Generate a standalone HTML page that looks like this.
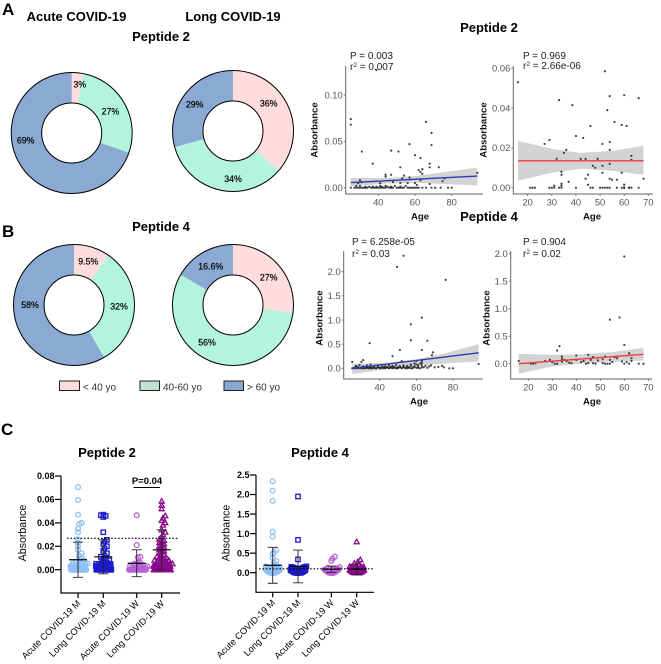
<!DOCTYPE html>
<html lang="en">
<head>
<meta charset="utf-8">
<title>Peptide absorbance by age</title>
<style>
html,body{margin:0;padding:0;background:#fff;}
svg{display:block;font-family:"Liberation Sans",sans-serif;filter:blur(0.3px);}
.panel{font-size:17px;font-weight:bold;fill:#000;}
.title{font-size:13px;font-weight:bold;fill:#000;text-anchor:middle;}
.stat{font-size:10px;fill:#222;}
.axt{font-size:9.6px;font-weight:bold;fill:#111;text-anchor:middle;}
.leg{font-size:10px;fill:#333;}
</style>
</head>
<body>
<svg id="fig" xmlns="http://www.w3.org/2000/svg" width="661" height="664" viewBox="0 0 661 664">
<text class="panel" x="2" y="15">A</text>
<text class="panel" x="2" y="237">B</text>
<text class="panel" x="1" y="435">C</text>
<text class="title" x="76.500" y="21">Acute COVID-19</text>
<text class="title" x="233" y="21">Long COVID-19</text>
<text class="title" x="161" y="41">Peptide 2</text>
<text class="title" x="161" y="231">Peptide 4</text>
<text class="title" x="489" y="32">Peptide 2</text>
<text class="title" x="489" y="221">Peptide 4</text>
<text class="title" x="107" y="457">Peptide 2</text>
<text class="title" x="320" y="457">Peptide 4</text>

<g>
<rect x="59.500" y="381" width="20" height="9.500" fill="#ffdcdc" stroke="#222" stroke-width="1"/>
<text class="leg" x="83" y="390.500">&lt; 40 yo</text>
<rect x="140" y="381" width="19.500" height="9.500" fill="#c0e4d4" stroke="#222" stroke-width="1"/>
<text class="leg" x="163" y="390.500">40-60 yo</text>
<rect x="224" y="381" width="19.500" height="9.500" fill="#87a8d4" stroke="#222" stroke-width="1"/>
<text class="leg" x="247" y="390.500">&gt; 60 yo</text>
</g>

<g>
<text class="stat" x="350" y="59">P = 0.003</text>
<text class="stat" x="350" y="70">r<tspan dy="-3" font-size="6.500">2</tspan><tspan dy="3"> = 0.007</tspan></text>
</g>
<g>
<text class="stat" x="523" y="59">P = 0.969</text>
<text class="stat" x="523" y="69">r<tspan dy="-3" font-size="6.500">2</tspan><tspan dy="3"> = 2.66e-06</tspan></text>
</g>
<g>
<text class="stat" x="352" y="245">P = 6.258e-05</text>
<text class="stat" x="352" y="257">r<tspan dy="-3" font-size="6.500">2</tspan><tspan dy="3"> = 0.03</tspan></text>
</g>
<g>
<text class="stat" x="523" y="245">P = 0.904</text>
<text class="stat" x="523" y="257">r<tspan dy="-3" font-size="6.500">2</tspan><tspan dy="3"> = 0.02</tspan></text>
</g>
</svg>

<script>
// ---------- Donut data ----------
var donutColors = ['#ffdddd', '#b3f5dc', '#8aa9d3'];
var donutA1Values = [3, 27, 69];
var donutA1Labels = ['3%', '27%', '69%'];
var donutA2Values = [36, 34, 29];
var donutA2Labels = ['36%', '34%', '29%'];
var donutB1Values = [9.5, 32, 58];
var donutB1Labels = ['9.5%', '32%', '58%'];
var donutB2Values = [27, 56, 16.6];
var donutB2Labels = ['27%', '56%', '16.6%'];

// ---------- Scatter data ----------
var a1Ticks = [0, 0.05, 0.10];
var a1TickLabels = ['0.00', '0.05', '0.10'];
var a1Ages = [25,25,31,37,39,47,51,57,60,63,
 66,69,69,52,44,44,47,54,53,57,
 62,64,63,64,68,68,73,76,75,94,
 63,30,31,41,48,52,56,60,61,68,
 29,
 25,27,28,29,30,31,32,33,34,36,
 37,38,39,40,41,42,43,44,46,47,
 48,50,51,52,53,54,56,57,58,59,
 60,61,62,64,66,69,71,74,78,80,
 28,30,33,35,37,39,41,42,44,45,47,49,52,55];
var a1Values = [.074,.068,.039,.026,.127,.040,.039,.047,.035,.032,
 .071,.059,.046,.022,.014,.012,.014,.013,.010,.011,
 .019,.020,.017,.015,.026,.022,.022,.010,.007,.016,
 .008,.008,.006,.005,.006,.005,.005,.005,.003,.004,
 .005,
 0,0,0,0,0,0,0,0,0,0,
 0,0,0,0,0,0,0,0,0,0,
 0,0,0,0,0,0,0,0,0,0,
 0,0,0,0,0,0,0,0,0,0,
 .002,.002,.001,.001,.001,.001,.002,.001,.002,.001,.001,.002,.001,.002];
var a1LineAges = [25, 94];
var a1LineValues = [.0055, .0125];
var a1BandAges = [25, 45, 60, 75, 94];
var a1BandLow = [.0015, .0045, .0055, .004, .0025];
var a1BandHigh = [.0105, .0105, .0125, .0165, .0217];

var a2Ticks = [0, .02, .04, .06];
var a2TickLabels = ['0.00', '0.02', '0.04', '0.06'];
var a2XTicks = [20, 30, 40, 50, 60, 70];
var a2Ages = [16,33,38.5,52,54,60,66,53,46,56,
 59,61,40,43,29,27,51,54,54,36,
 35,32,42,44,49,63,63,47,48,51,
 54,34,34,51,59,44,45,54,55,57,
 68,37,45,31,34,34,60,
 21,22,23,29,30,31,33,34,40,46,
 47,50,51,52,53,54,57,59,60,60,
 60,62,62,63,66];
var a2Values = [.053,.044,.0415,.0585,.046,.0465,.045,.039,.031,.033,
 .0315,.031,.026,.025,.024,.022,.022,.023,.019,.019,
 .0175,.0145,.0145,.0145,.0145,.016,.014,.011,.010,.011,
 .012,.008,.0065,.0075,.0075,.0045,.0065,.0045,.004,.004,
 .0045,.003,.0015,.001,.002,.001,.0015,
 0,0,0,0,0,0,0,0,0,0,
 0,0,0,0,0,0,0,0,0,0,
 0,0,0,0,0];
var a2LineAges = [16, 68];
var a2LineValues = [.0135, .0135];
var a2BandAges = [16, 30, 42, 55, 68];
var a2BandLow = [.0035, .0075, .0095, .0085, .0065];
var a2BandHigh = [.0235, .0195, .0175, .0185, .021];

var b1Ticks = [0, .5, 1, 1.5, 2];
var b1TickLabels = ['0.0', '0.5', '1.0', '1.5', '2.0'];
var b1Ages = [49.5,53,76,63,57,57,66,34.5,51,63,
 69,68.5,47,31,30,25,52,60,63,65,
 68,72,74,75,78,80,94,
 25,26,27,28,29,30,31,32,33,34,
 35,36,37,38,39,40,41,42,43,44,
 45,46,47,48,49,50,51,52,53,54,
 55,56,57,58,59,60,61,62,63,64,
 27,29,31,33,35,37,39,41,43,45,
 47,49,51,53,55,57,59,61,63,67,
 26,27,28,29,30,31,32,33,34,35,
 36,37,38,39,40,41,42,43,44,45,
 46,47,48,49,50,51,52,53,54,55,
 56,57,58,59,60,61,62,63,66,70];
var b1Values = [2.1,2.33,1.83,1.05,.91,.58,.57,.52,.38,.38,
 .33,.27,.25,.17,.13,.13,.15,.15,.15,.05,
 .06,.03,.05,.02,0,0,.09,
 0,0,.02,0,.01,0,.03,0,.01,0,
 .02,0,.01,0,.02,0,.01,.03,0,.02,
 0,.01,0,.03,.01,0,.02,0,.04,.01,
 0,.02,.05,0,.03,.08,.01,.1,.06,.02,
 .05,.07,.04,.06,.08,.05,.06,.07,.04,.06,
 .05,.07,.04,.06,.05,.08,.1,.06,.11,.04,
 .01,0,.03,.01,.02,0,.01,.02,.03,0,
 .01,.02,0,.03,.01,.02,0,.01,.02,.01,
 .03,.02,.01,0,.02,.04,.01,.02,0,.03,
 .01,0,.02,.04,.01,.03,0,.02,.01,.02];
var b1LineAges = [25, 94];
var b1LineValues = [.0, .32];
var b1BandAges = [25, 45, 60, 75, 94];
var b1BandLow = [-.12, -.01, .05, .1, .14];
var b1BandHigh = [.09, .12, .19, .3, .5];

var b2Ticks = [0, .5, 1, 1.5, 2];
var b2TickLabels = ['0.0', '0.5', '1.0', '1.5', '2.0'];
var b2XTicks = [20, 30, 40, 50, 60, 70];
var b2Ages = [16,60,54,58,33,32,60,62,34,40,
 45,47,52,34,29,27,30,21,22,23,
 31,32,34,35,36,37,38,40,42,43,
 44,45,46,47,48,49,51,51,52,53,
 54,54,55,56,57,59,60,61,62,63,
 63,66,68];
var b2Values = [.05,1.95,.8,.84,.32,.24,.34,.19,.13,.15,
 .16,.12,.13,.09,.07,.05,.03,0,0,.01,
 0,0,.04,.07,.05,.02,.01,.07,.03,.05,
 0,.01,.07,.01,0,.06,.08,.01,0,0,
 .07,0,.03,.12,.1,.04,0,.03,0,.05,
 .1,0,0];
var b2LineAges = [16, 68];
var b2LineValues = [0, .17];
var b2BandAges = [16, 30, 42, 55, 68];
var b2BandLow = [-.18, -.05, .0, .03, .06];
var b2BandHigh = [.18, .16, .17, .21, .29];

var ageTicksWide = [40, 60, 80];

// ---------- Dot plot data ----------
var groupNames = ['Acute COVID-19 M', 'Long COVID-19 M', 'Acute COVID-19 W', 'Long COVID-19 W'];
var groupColors = ['#8fc0f5', '#1c1cc8', '#b860d8', '#8b0a8b'];
var groupMarkers = ['circle', 'square', 'circle', 'triangle'];

var c1Ticks = [0, .02, .04, .06, .08];
var c1TickLabels = ['0.00', '0.02', '0.04', '0.06', '0.08'];
var c1AcuteM = [.0705,.0595,.047,.040,.039,.035,.032,.026,.023,.020,.017,.014,.012,.010,.009,.008,.007,.006,.006,.005,.005,.005,
 .004,.004,.004,.004,.004,.003,.003,.003,.003,.003,.003,.002,.002,.002,.002,.002,.002,.002,.002,.002,.002,.001,.001,.001,.001,.001,.001,.001,.001,.001,
 .003,.003,.003,.003,.002,.002,.002,.002,.002,.002,.001,.001,.001,.001,.001,.001,.001,.001,
 0,0,0,0,0,0,0,0,0,0,0,0,0,0,0,0,0,0,0,0,0,0,0,0];
var c1LongM = [.047,.0465,.046,.045,.032,.0255,.024,.022,.020,.018,.016,.014,.012,.011,.010,.009,.008,.007,.006,.006,.005,.005,.005,
 .004,.004,.004,.004,.003,.003,.003,.003,.003,.003,.002,.002,.002,.002,.002,.002,.002,.001,.001,.001,.001,.001,.001,.001,.001,
 .003,.003,.003,.002,.002,.002,.002,.002,.001,.001,.001,.001,.001,.001,.001,.001,
 0,0,0,0,0,0,0,0,0,0,0,0,0,0,0,0,0,0,0,0,0,0,0,0,0,0,0,0,0,0];
var c1AcuteW = [.0465,.021,.011,.0105,.006,.006,.005,.004,.004,.003,.003,.002,.002,.002,.001,.001,.001,.001,.001,
 0,0,0,0,0,0,0,0,0,0,0,0,0,0,0,0,0,0,0,0];
var c1LongW = [.0585,.055,.052,.046,.044,.042,.040,.038,.034,.032,.030,.028,.026,.025,.024,.023,.022,.021,.020,.019,.018,.017,.016,.015,.014,.013,.012,.011,.010,.010,.009,.009,.008,.008,.007,.007,.006,.006,.006,.005,.005,.005,.004,.004,.004,.003,.003,.003,.003,.002,.002,.002,.002,.001,.001,.001,.001,
 .004,.004,.003,.003,.003,.002,.002,.002,.002,.001,.001,.001,.001,.001,.001,
 0,0,0,0,0,0,0,0,0,0,0,0,0,0,0,0,0,0,0,0,0,0,0,0,0,0,0,0,0,0];
var c1Means = [.0085, .011, .0055, .017];
var c1Sds = [.015, .0145, .0115, .017];
var c1Cutoff = [.0268];

var c2Ticks = [0, .5, 1, 1.5, 2, 2.5];
var c2TickLabels = ['0.0', '0.5', '1.0', '1.5', '2.0', '2.5'];
var c2AcuteM = [2.34,2.1,1.84,1.05,.92,.58,.52,.48,.38,.3,.26,.2,.18,.16,.14,.12,.12,.1,.1,.09,.08,.08,.07,.07,.06,.06,.05,.05,.05,.04,.04,.04,.03,.03,.03,.03,.02,.02,.02,.02,.01,.01,.01,.01,.01,
 .1,.09,.08,.07,.06,.05,.05,.04,.04,.03,.03,.02,.02,.02,.01,.01,.01,
 0,0,0,0,0,0,0,0,0,0,0,0,0,0,0,0,0,0,0,0,0,0,0,0];
var c2LongM = [1.95,.84,.34,.16,.15,.14,.13,.12,.11,.1,.1,.09,.09,.08,.08,.08,.07,.07,.07,.06,.06,.06,.06,.05,.05,.05,.05,.04,.04,.04,.04,.03,.03,.03,.03,.03,.02,.02,.02,.02,.02,.02,.01,.01,.01,.01,.01,.01,
 .15,.14,.13,.12,.11,.1,.1,.09,.08,.07,.06,.05,.04,.03,.02,.01,
 0,0,0,0,0,0,0,0,0,0,0,0,0,0,0,0,0,0,0,0,0,0,0,0];
var c2AcuteW = [.41,.36,.3,.14,.12,.11,.1,.09,.08,.08,.07,.07,.06,.06,.05,.05,.05,.04,.04,.04,.03,.03,.03,.02,.02,.02,.01,.01,.01,.01,
 .09,.08,.07,.06,.05,.04,.03,.02,.01,
 0,0,0,0,0,0,0,0,0,0,0,0,0,0,0,0];
var c2LongW = [.79,.33,.28,.24,.2,.18,.16,.15,.14,.13,.12,.12,.11,.1,.1,.09,.09,.08,.08,.07,.07,.06,.06,.06,.05,.05,.05,.04,.04,.04,.03,.03,.03,.03,.02,.02,.02,.02,.02,.01,.01,.01,.01,.01,.01,
 .08,.07,.06,.05,.04,.03,.02,.01,
 0,0,0,0,0,0,0,0,0,0,0,0,0,0,0,0,0,0,0,0];
var c2Means = [.19, .16, .09, .09];
var c2Sds = [.46, .42, .08, .13];
var c2Cutoff = [.1];

// ---------- Helpers ----------
var SVGNS = 'http://www.w3.org/2000/svg';
var fig = document.getElementById('fig');
function mk(tag, attrs, parent) {
  var el = document.createElementNS(SVGNS, tag);
  for (var k in attrs) el.setAttribute(k, attrs[k]);
  (parent || fig).appendChild(el);
  return el;
}
function linear(d0, r0, d1, r1) {
  return function (v) { return r0 + (v - d0) * (r1 - r0) / (d1 - d0); };
}
function polar(cx, cy, r, frac) {
  var a = frac * 2 * Math.PI;
  return [cx + r * Math.sin(a), cy - r * Math.cos(a)];
}

// ---------- Donut ----------
function drawDonut(cx, cy, values, labels, offsets) {
  var g = mk('g', {});
  
  
  var R = 60.5, r = 30, total = 0, acc = 0, i;
  for (i = 0; i < values.length; i++) total += values[i];
  for (i = 0; i < values.length; i++) {
    var f0 = acc / total, f1 = (acc + values[i]) / total;
    acc += values[i];
    var a = polar(cx, cy, R, f0), b = polar(cx, cy, R, f1), c = polar(cx, cy, r, f1), e = polar(cx, cy, r, f0);
    var large = (f1 - f0) > 0.5 ? 1 : 0;
    var slice = mk('path', {
      d: 'M' + a + 'A' + R + ' ' + R + ' 0 ' + large + ' 1 ' + b + 'L' + c + 'A' + r + ' ' + r + ' 0 ' + large + ' 0 ' + e + 'Z',
      fill: donutColors[i]
    }, g);
    
    
  }
  mk('circle', { cx: cx, cy: cy, r: R, fill: 'none', stroke: '#000', 'stroke-width': 1 }, g);
  mk('circle', { cx: cx, cy: cy, r: r, fill: 'none', stroke: '#000', 'stroke-width': 1 }, g);
  for (i = 0; i < labels.length; i++) {
    var t = mk('text', {
      x: cx + offsets[i][0], y: cy + offsets[i][1] + 3,
      'text-anchor': 'middle', 'font-size': '8.8', fill: '#000', stroke: '#000', 'stroke-width': '0.2'
    }, g);
    t.textContent = labels[i];
    
    
  }
}
drawDonut(71.7, 133, donutA1Values, donutA1Labels, [[8, -48.7], [38.7, -21.7], [-46, 7.3]]);
drawDonut(233, 131, donutA2Values, donutA2Labels, [[35.7, -27.3], [0, 48], [-38.3, -26.7]]);
drawDonut(74, 305, donutB1Values, donutB1Labels, [[14.3, -43.3], [45, 1.3], [-44, 0]]);
drawDonut(233, 305, donutB2Values, donutB2Labels, [[35.7, -27.3], [-26, 37.7], [-22.3, -38.7]]);

// ---------- Scatter ----------
function drawScatter(o) {
  var g = mk('g', {});
  
  
  var i;
  var X = o.x, Y = o.y;
  // band
  var top = '', bot = '';
  for (i = 0; i < o.bandAges.length; i++) top += (i ? 'L' : 'M') + X(o.bandAges[i]) + ' ' + Y(o.bandHigh[i]);
  for (i = o.bandAges.length - 1; i >= 0; i--) bot += 'L' + X(o.bandAges[i]) + ' ' + Y(o.bandLow[i]);
  var band = mk('path', { d: top + bot + 'Z', fill: '#d3d3d3' }, g);
  
  
  // points
  for (i = 0; i < o.ages.length; i++) {
    if (o.values[i] === undefined) continue;
    var p = mk('circle', { cx: X(o.ages[i]), cy: Y(o.values[i]), r: 1.1, fill: '#222', 'fill-opacity': 0.85 }, g);
    
    
  }
  // line
  var ln = mk('line', {
    x1: X(o.lineAges[0]), y1: Y(o.lineValues[0]), x2: X(o.lineAges[1]), y2: Y(o.lineValues[1]),
    stroke: o.lineColor, 'stroke-width': 1.4
  }, g);
  
  
  // axes
  mk('path', { d: 'M' + o.left + ' ' + o.top + 'V' + o.bottom + 'H' + o.right, fill: 'none', stroke: '#666', 'stroke-width': 1 }, g);
  for (i = 0; i < o.yTicks.length; i++) {
    mk('line', { x1: o.left - 2, x2: o.left, y1: Y(o.yTicks[i]), y2: Y(o.yTicks[i]), stroke: '#666', 'stroke-width': 0.8 }, g);
    var yl = mk('text', { x: o.left - 3, y: Y(o.yTicks[i]) + 3.3, 'text-anchor': 'end', 'font-size': '9.4', fill: '#555' }, g);
    yl.textContent = o.yLabels[i];
    
    
  }
  for (i = 0; i < o.xTicks.length; i++) {
    mk('line', { x1: X(o.xTicks[i]), x2: X(o.xTicks[i]), y1: o.bottom, y2: o.bottom + 2, stroke: '#666', 'stroke-width': 0.8 }, g);
    var xl = mk('text', { x: X(o.xTicks[i]), y: o.bottom + 11.5, 'text-anchor': 'middle', 'font-size': '9.4', fill: '#555' }, g);
    xl.textContent = o.xTicks[i];
    
    
  }
  var xt = mk('text', { x: o.xTitle, y: o.bottom + 25.5, 'class': 'axt', 'font-size': '9.4' }, g);
  xt.textContent = 'Age';
  
  
  var yt = mk('text', { 'class': 'axt', transform: 'translate(' + o.yTitleX + ',' + o.yTitleY + ') rotate(-90)' }, g);
  yt.textContent = 'Absorbance';
  
  
}
drawScatter({
  x: linear(40, 378.3, 80, 451.7), y: linear(0, 187.7, 0.1, 95),
  left: 345.7, right: 483, top: 66, bottom: 194, xTitle: 420, yTitleX: 317.500, yTitleY: 130,
  ages: a1Ages, values: a1Values, lineAges: a1LineAges, lineValues: a1LineValues,
  bandAges: a1BandAges, bandLow: a1BandLow, bandHigh: a1BandHigh,
  yTicks: a1Ticks, yLabels: a1TickLabels, xTicks: ageTicksWide, lineColor: '#2f3bb0'
});
drawScatter({
  x: linear(20, 527.7, 70, 648.3), y: linear(0, 187.7, 0.06, 68.3),
  left: 513.3, right: 653, top: 66, bottom: 194, xTitle: 592, yTitleX: 486.500, yTitleY: 130,
  ages: a2Ages, values: a2Values, lineAges: a2LineAges, lineValues: a2LineValues,
  bandAges: a2BandAges, bandLow: a2BandLow, bandHigh: a2BandHigh,
  yTicks: a2Ticks, yLabels: a2TickLabels, xTicks: a2XTicks, lineColor: '#ef3b3b'
});
drawScatter({
  x: linear(40, 379.7, 80, 453), y: linear(0, 368.3, 2, 271.7),
  left: 343.7, right: 483, top: 251, bottom: 379, xTitle: 419, yTitleX: 322.500, yTitleY: 318,
  ages: b1Ages, values: b1Values, lineAges: b1LineAges, lineValues: b1LineValues,
  bandAges: b1BandAges, bandLow: b1BandLow, bandHigh: b1BandHigh,
  yTicks: b1Ticks, yLabels: b1TickLabels, xTicks: ageTicksWide, lineColor: '#2f3bb0'
});
drawScatter({
  x: linear(20, 528.3, 70, 648.3), y: linear(0, 363.7, 2, 253.7),
  left: 510.7, right: 652, top: 251, bottom: 379, xTitle: 592, yTitleX: 489.500, yTitleY: 318,
  ages: b2Ages, values: b2Values, lineAges: b2LineAges, lineValues: b2LineValues,
  bandAges: b2BandAges, bandLow: b2BandLow, bandHigh: b2BandHigh,
  yTicks: b2Ticks, yLabels: b2TickLabels, xTicks: b2XTicks, lineColor: '#ef3b3b'
});

// ---------- Dot plots ----------
function swarm(values, Y, halfWidth) {
  var sorted = values.slice().sort(function (a, b) { return a - b; });
  var rows = {}, out = [];
  sorted.forEach(function (v) {
    var k = Math.round(Y(v) / 3.4);
    (rows[k] = rows[k] || []).push(v);
  });
  Object.keys(rows).forEach(function (k) {
    var row = rows[k], n = row.length;
    var step = n > 1 ? Math.min(2.4, 2 * halfWidth / (n - 1)) : 0;
    row.forEach(function (v, i) {
      var slot = Math.ceil(i / 2) * (i % 2 ? 1 : -1);
      var shift = n % 2 ? 0 : step / 2;
      out.push([slot * step + shift, v]);
    });
  });
  return out;
}
function marker(g, kind, x, y, color) {
  var el;
  if (kind === 'circle') {
    el = mk('circle', { cx: x, cy: y, r: 2.4, fill: 'none', stroke: color, 'stroke-width': 1.3 }, g);
  } else if (kind === 'square') {
    el = mk('rect', { x: x - 2.2, y: y - 2.2, width: 4.4, height: 4.4, fill: 'none', stroke: color, 'stroke-width': 1.3 }, g);
  } else {
    el = mk('path', { d: 'M' + x + ' ' + (y - 2.6) + 'L' + (x + 2.5) + ' ' + (y + 1.9) + 'H' + (x - 2.5) + 'Z', fill: 'none', stroke: color, 'stroke-width': 1.3 }, g);
  }
  
  
}
function drawDots(o) {
  var g = mk('g', {});
  
  
  var Y = o.y, i, cats = o.cats;
  for (i = 0; i < o.series.length; i++) {
    var pts = swarm(o.series[i], Y, o.halfWidths[i]);
    for (var j = 0; j < pts.length; j++) marker(g, groupMarkers[i], cats[i] + pts[j][0], Y(pts[j][1]), groupColors[i]);
  }
  // cut-off
  var cut = mk('line', { x1: o.cutFrom, x2: o.cutTo, y1: Y(o.cutoff[0]), y2: Y(o.cutoff[0]), stroke: '#000', 'stroke-width': 1.1, 'stroke-dasharray': '1.6 1.8' }, g);
  
  
  // error bars
  for (i = 0; i < o.means.length; i++) {
    var cx = cats[i], up = o.means[i] + o.sds[i], lo = o.means[i] - o.sds[i];
    var eb = mk('path', {
      d: 'M' + cx + ' ' + Y(up) + 'V' + Y(lo) + 'M' + (cx - 5) + ' ' + Y(up) + 'h10M' + (cx - 5) + ' ' + Y(lo) + 'h10',
      stroke: '#222', 'stroke-width': 0.9, fill: 'none'
    }, g);
    
    
    var mn = mk('line', { x1: cx - 9, x2: cx + 9, y1: Y(o.means[i]), y2: Y(o.means[i]), stroke: '#000', 'stroke-width': 1.2 }, g);
    
    
  }
  // axes
  mk('path', { d: 'M' + o.left + ' ' + Y(o.ticks[o.ticks.length - 1]) + 'V' + o.bottom + 'H' + o.right, fill: 'none', stroke: '#000', 'stroke-width': 1.2 }, g);
  for (i = 0; i < o.ticks.length; i++) {
    mk('line', { x1: o.left - 6, x2: o.left, y1: Y(o.ticks[i]), y2: Y(o.ticks[i]), stroke: '#000', 'stroke-width': 1.2 }, g);
    var tl = mk('text', { x: o.left - 6.5, y: Y(o.ticks[i]) + 3.2, 'text-anchor': 'end', 'font-size': '9', 'font-weight': 'bold', fill: '#000' }, g);
    tl.textContent = o.tickLabels[i];
    
    
  }
  for (i = 0; i < cats.length; i++) {
    mk('line', { x1: cats[i], x2: cats[i], y1: o.bottom, y2: o.bottom + 5, stroke: '#000', 'stroke-width': 1.2 }, g);
    var c = mk('text', { 'text-anchor': 'end', 'font-size': '9.2', fill: '#000', transform: 'translate(' + (cats[i] + 3) + ',' + (o.bottom + 11) + ') rotate(-45)' }, g);
    c.textContent = groupNames[i];
    
    
  }
  var yt = mk('text', { 'text-anchor': 'middle', 'font-size': '10.6', fill: '#000', transform: 'translate(' + o.titleX + ',533) rotate(-90)' }, g);
  yt.textContent = 'Absorbance';
  
  
}
drawDots({
  y: linear(0, 569.7, 0.08, 476), left: 61, right: 180, bottom: 593,
  cats: [78, 103.3, 136.7, 161.7], series: [c1AcuteM, c1LongM, c1AcuteW, c1LongW],
  halfWidths: [7.5, 7.5, 8.5, 8.5], means: c1Means, sds: c1Sds, cutoff: c1Cutoff,
  cutFrom: 67, cutTo: 179, ticks: c1Ticks, tickLabels: c1TickLabels, titleX: 26
});
drawDots({
  y: linear(0, 572.7, 2.5, 475), left: 256, right: 374, bottom: 592.3,
  cats: [272.7, 298, 331.3, 356.7], series: [c2AcuteM, c2LongM, c2AcuteW, c2LongW],
  halfWidths: [7, 7.5, 7, 7], means: c2Means, sds: c2Sds, cutoff: c2Cutoff,
  cutFrom: 259, cutTo: 373, ticks: c2Ticks, tickLabels: c2TickLabels, titleX: 229.500
});

// significance bracket
var sigBar = mk('line', { x1: 133.5, x2: 160, y1: 487.5, y2: 487.5, stroke: '#000', 'stroke-width': 1.1 });


var sigText = mk('text', { x: 147, y: 484, 'text-anchor': 'middle', 'font-size': '9.5', 'font-weight': 'bold', fill: '#000' });
sigText.textContent = 'P=0.04';


</script>
</body>
</html>
